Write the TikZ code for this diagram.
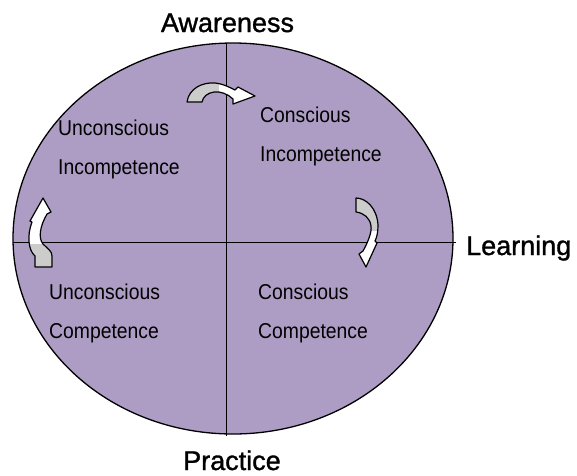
\documentclass[tikz,border=0pt]{standalone}
\usepackage{fontspec}
\setmainfont{Liberation Sans}
\newfontfamily\stagefont[FakeStretch=0.9]{Liberation Sans}
\newfontfamily\axisfont[FakeBold=1.2]{Liberation Sans}
\definecolor{lavender}{RGB}{173,157,196}
\definecolor{ribbon}{RGB}{204,204,204}
\begin{document}
\begin{tikzpicture}[x=1pt,y=-1pt]
% Styles
\tikzset{
  stage/.style={inner sep=0pt, anchor=north west, align=left, font=\stagefont\fontsize{21.5}{39.5}\selectfont},
  axis/.style={inner sep=0pt, font=\axisfont\fontsize{27}{27}\selectfont},
  turn/.style={draw=black, line width=1.2pt, line join=round, fill=white}
}
\useasboundingbox (0,0) rectangle (577,475);

% Ellipse and axes
\draw[line width=1.3pt, fill=lavender] (233,238.5) ellipse [x radius=220, y radius=195.5];
\coordinate (top) at (226.5,43);
\coordinate (bottom) at (226.5,436);
\coordinate (left) at (13,242.5);
\coordinate (right) at (456,242.5);
\draw[line width=1.2pt] (top) -- (bottom);
\draw[line width=1.2pt] (left) -- (right);

% Axis labels
\node[axis, anchor=base] (awareness) at (227.5,32) {Awareness};
\node[axis, anchor=base west] (learning) at (466,255) {Learning};
\node[axis, anchor=base] (practice) at (232,470) {Practice};

% Quadrants
\node[stage] (ui) at (58,119.5) {Unconscious\\Incompetence};
\node[stage] (ci) at (260,106.5) {Conscious\\Incompetence};
\node[stage] (uc) at (49,283.5) {Unconscious\\Competence};
\node[stage] (cc) at (258,283.5) {Conscious\\Competence};

% Turning arrows
\draw[turn, path picture={\fill[ribbon] (150,60) rectangle (219,120);}]
  (187,102) .. controls (189,88) and (203,82) .. (215,83)
  .. controls (224,84) and (231,88) .. (235,90) -- (238,87) -- (255,96) -- (233,104) -- (233,99)
  .. controls (228,94) and (220,91) .. (214,92)
  .. controls (207,93) and (203,97) .. (202,102) -- cycle;
\draw[turn, path picture={\fill[ribbon] (340,180) rectangle (400,231);}]
  (356,198) .. controls (366,198) and (377,208) .. (378,225)
  .. controls (378,232) and (377,237) .. (375,241) -- (377,243) -- (366,267) -- (359,254) -- (363,251)
  .. controls (368,242) and (372,232) .. (371,226)
  .. controls (370,218) and (364,213) .. (356,212) -- cycle;
\draw[turn, path picture={\fill[ribbon] (20,244) rectangle (60,280);}]
  (35,267) -- (35,256) .. controls (28,250) and (27,235) .. (32,222)
  -- (30,221) -- (43,198) -- (51,212) -- (47,214)
  .. controls (40,226) and (38,238) .. (43,244)
  .. controls (48,249) and (52,251) .. (52,256) -- (52,267) -- cycle;
\end{tikzpicture}
\end{document}
